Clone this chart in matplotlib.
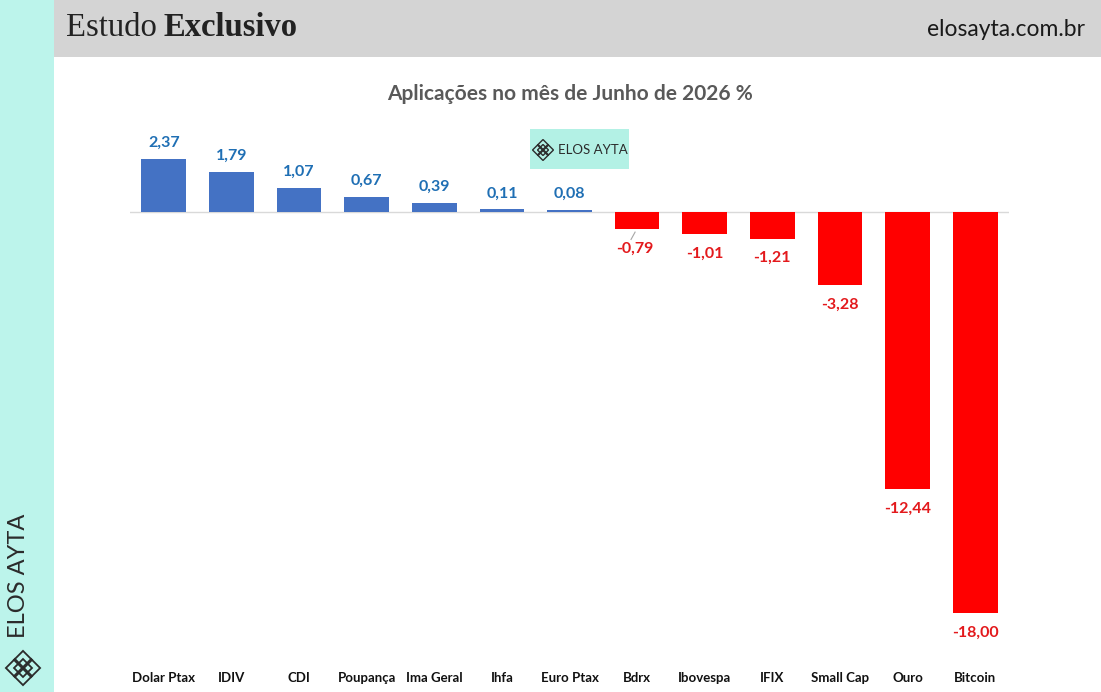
import matplotlib
matplotlib.use('Agg')
import matplotlib.pyplot as plt
from matplotlib.patches import Rectangle, Polygon
from matplotlib.transforms import blended_transform_factory

# Data
categorias = ['Dolar Ptax', 'IDIV', 'CDI', 'Poupança', 'Ima Geral', 'Ihfa', 'Euro Ptax',
              'Bdrx', 'Ibovespa', 'IFIX', 'Small Cap', 'Ouro', 'Bitcoin']
retornos = [2.37, 1.79, 1.07, 0.67, 0.39, 0.11, 0.08,
            -0.79, -1.01, -1.21, -3.28, -12.44, -18.00]

W, H = 1101, 692
AZUL = '#4472c4'
AZUL_TXT = '#1f6fb4'
VERMELHO = '#ff0000'
VERM_TXT = '#e3191c'
CIANO = '#bcf4eb'
CINZA = '#d4d4d4'

plt.rcParams['font.family'] = ['Lato', 'DejaVu Sans']

fig = plt.figure(figsize=(W / 100, H / 100), dpi=100)
fig.patch.set_facecolor('white')


def fx(px):
    return px / W


def fy(py):
    return 1 - py / H


# left strip and header band
fig.patches.append(Rectangle((0, 0), fx(54), 1, transform=fig.transFigure,
                             facecolor=CIANO, edgecolor='none', zorder=0))
fig.patches.append(Rectangle((fx(54), fy(57)), 1 - fx(54), fy(0) - fy(57),
                             transform=fig.transFigure, facecolor=CINZA,
                             edgecolor='none', zorder=0))

t1 = fig.text(fx(66), fy(28), 'Estudo', family='Liberation Serif', fontsize=23.5,
              color='#222222', va='center', ha='left')
rend = fig.canvas.get_renderer()
x_fim = t1.get_window_extent(rend).x1
fig.text(fx(x_fim + 7), fy(28), 'Exclusivo', family='Liberation Serif', fontsize=23.5,
         fontweight='bold', color='#222222', va='center', ha='left')
fig.text(fx(1085), fy(30), 'elosayta.com.br', fontsize=16.5, color='#1a1a1a',
         va='center', ha='right')

# vertical brand on the left strip
fig.text(fx(19), fy(576), 'ELOS AYTA', rotation=90, fontsize=17, color='#2b2b2b',
         va='center', ha='center')


def icone(cx, cy, s, lw=1.1):
    # small lattice logo made of rotated squares (pixel coords)
    offs = [(-1, 0), (1, 0), (0, -1), (0, 1), (0, 0)]
    for dx, dy in offs:
        x0, y0 = cx + dx * s * 0.9, cy + dy * s * 0.9
        pts = [(fx(x0), fy(y0 - s)), (fx(x0 + s), fy(y0)),
               (fx(x0), fy(y0 + s)), (fx(x0 - s), fy(y0))]
        fig.patches.append(Polygon(pts, closed=True, transform=fig.transFigure,
                                   facecolor='none', edgecolor='#2b2b2b',
                                   linewidth=lw, zorder=5))


icone(23, 668, 9, 1.3)

# chart axes: x from 130 to 1009 px, y from 159 to 613 px
ax = fig.add_axes([fx(130), fy(613), fx(1009) - fx(130), fy(159) - fy(613)])
ax.set_xlim(-0.5, len(categorias) - 0.5)
ax.set_ylim(-18, 2.37)
ax.axis('off')

x = list(range(len(categorias)))
cores = [AZUL if v >= 0 else VERMELHO for v in retornos]
ax.bar(x, retornos, width=0.66, color=cores, zorder=2)
ax.axhline(0, color='#d9d9d9', linewidth=1.0, zorder=1)

for i, v in enumerate(retornos):
    txt = f'{v:.2f}'.replace('.', ',')
    if v >= 0:
        ax.annotate(txt, (i, v), xytext=(0, 11.5), textcoords='offset points',
                    ha='center', va='center', fontsize=11.5, fontweight='bold',
                    color=AZUL_TXT, annotation_clip=False)
    else:
        ax.annotate(txt, (i, v), xytext=(-2 if i == 7 else 0, -14),
                    textcoords='offset points', ha='center', va='center',
                    fontsize=11.5, fontweight='bold', color=VERM_TXT,
                    annotation_clip=False)

# small leader line on Bdrx label
ax.plot([6.97, 6.91], [retornos[7] - 0.12, retornos[7] - 0.45], color='#a6a6a6',
        linewidth=0.8, clip_on=False)

tr = blended_transform_factory(ax.transData, fig.transFigure)
for i, c in enumerate(categorias):
    ax.text(i, fy(678), c, transform=tr, ha='center', va='center', fontsize=9.5,
            fontweight='bold', color='#111111')

fig.text(fx(570), fy(94), 'Aplicações no mês de Junho de 2026 %', ha='center',
         va='center', fontsize=15, fontweight='bold', color='#595959')

# logo box inside the chart
fig.patches.append(Rectangle((fx(530), fy(169)), fx(629) - fx(530), fy(129) - fy(169),
                             transform=fig.transFigure, facecolor='#b3f1e5',
                             edgecolor='none', zorder=4))
icone(543, 150, 5.5, 1.0)
fig.text(fx(558), fy(150), 'ELOS AYTA', fontsize=9.5, color='#2b2b2b',
         va='center', ha='left', zorder=6)

fig.savefig('out.png', dpi=100)
